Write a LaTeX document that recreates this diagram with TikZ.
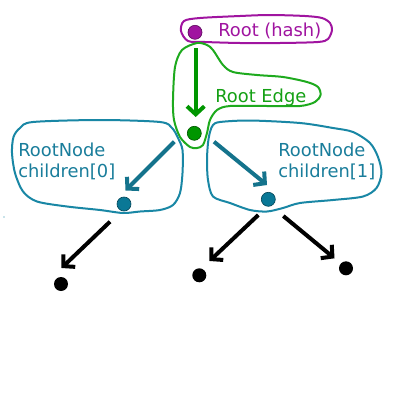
\documentclass[tikz,border=0pt]{standalone}
\usepackage{fontspec}
\setmainfont{DejaVu Sans}
\usetikzlibrary{arrows.meta}
\definecolor{pur}{RGB}{160,20,160}
\definecolor{grnline}{RGB}{30,170,30}
\definecolor{grn}{RGB}{0,150,0}
\definecolor{grntext}{RGB}{20,160,20}
\definecolor{tealline}{RGB}{25,135,165}
\definecolor{tealarr}{RGB}{20,115,140}
\definecolor{tealdot}{RGB}{10,120,150}
\definecolor{tealtext}{RGB}{25,125,155}
\tikzset{
  dot/.style={circle, inner sep=0pt, minimum size=10.5pt, line width=0.5pt},
  blob/.style={line width=1.5pt, line join=round},
  arr/.style={line width=3pt, -{Straight Barb[length=6pt, width=13pt]}},
  lbl/.style={anchor=base west, inner sep=0pt, font=\fontsize{13.4}{15.75}\selectfont},
}
\begin{document}
\begin{tikzpicture}[x=0.75pt, y=-0.75pt]
\useasboundingbox (0,0) rectangle (400,400);
\fill[white] (0,0) rectangle (400,400);
% outlines
\draw[blob, pur] plot[smooth cycle, tension=0.5] coordinates {
  (181,31) (184,21) (200,18) (240,16) (270,15) (305,16) (322,18) (330,23) (332,30)
  (328,39) (318,42) (280,43) (240,43) (205,42) (188,41)};
\draw[blob, grnline] plot[smooth cycle, tension=0.5] coordinates {
  (197,43) (182,50) (175,67) (173,100) (174,120) (180,137) (190,147) (197,148)
  (203,145) (207,133) (210,120) (217,110) (230,106) (267,106) (300,106) (315,102)
  (320.5,95) (318,87) (307,82) (283,77) (257,75) (233,72) (223,65) (213,50) (207,45)};
\draw[blob, tealline] plot[smooth cycle, tension=0.5] coordinates {
  (20,128) (33,122) (100,120) (160,122) (172,128) (178,138) (182.5,150) (182.5,173)
  (180,193) (173,205) (160,210) (140,211.5) (123,213) (100,210) (67,206.5) (37,201.5)
  (23,191.5) (15,173) (12,153) (13.5,137)};
\draw[blob, tealline] plot[smooth cycle, tension=0.5] coordinates {
  (213,125) (220,122) (250,120.5) (300,123) (333,128) (353,132) (370,143) (378,157)
  (381.5,173) (376.5,188) (363,196.5) (333,200) (300,203) (283,208) (267,211.5)
  (250,210) (230,203) (213,196.5) (208,180) (207,160) (208,143) (210,132)};
% dots
\node[dot, fill=pur, draw=pur!60!black] (root) at (195,32.3) {};
\node[dot, fill=grn, draw=grn!60!black] (edge) at (194.3,133.3) {};
\node[dot, fill=tealdot, draw=tealdot!60!black] (c0) at (124,204) {};
\node[dot, fill=tealdot, draw=tealdot!60!black] (c1) at (268.3,199.3) {};
\node[dot, fill=black] (l0) at (61,284) {};
\node[dot, fill=black] (l1) at (199.3,275.3) {};
\node[dot, fill=black] (l2) at (346,268.3) {};
\fill[tealline] (4,217) circle (0.6);
% arrow end points
\coordinate (gs) at (195.7,48);
\coordinate (gt) at (195.7,117);
\coordinate (t0s) at (174.3,141.7);
\coordinate (t0t) at (125.5,190.5);
\coordinate (t1s) at (214,141.7);
\coordinate (t1t) at (267,185);
\coordinate (b0s) at (110,221.7);
\coordinate (b0t) at (61.5,268);
\coordinate (b1s) at (258.3,215);
\coordinate (b1t) at (209.5,261);
\coordinate (b2s) at (283.3,216);
\coordinate (b2t) at (334.5,258.3);
% arrows
\draw[arr, grn] (gs) -- (gt);
\draw[arr, tealarr] (t0s) -- (t0t);
\draw[arr, tealarr] (t1s) -- (t1t);
\draw[arr, black] (b0s) -- (b0t);
\draw[arr, black] (b1s) -- (b1t);
\draw[arr, black] (b2s) -- (b2t);
% labels
\node[lbl, text=pur] (troot) at (218,36) {Root (hash)};
\node[lbl, text=grntext] (tedge) at (215,102) {Root Edge};
\node[lbl, text=tealtext] (tc0a) at (18,156) {RootNode};
\node[lbl, text=tealtext] (tc0b) at (18,177) {children[0]};
\node[lbl, text=tealtext] (tc1a) at (278,156) {RootNode};
\node[lbl, text=tealtext] (tc1b) at (278,177) {children[1]};
\end{tikzpicture}
\end{document}
